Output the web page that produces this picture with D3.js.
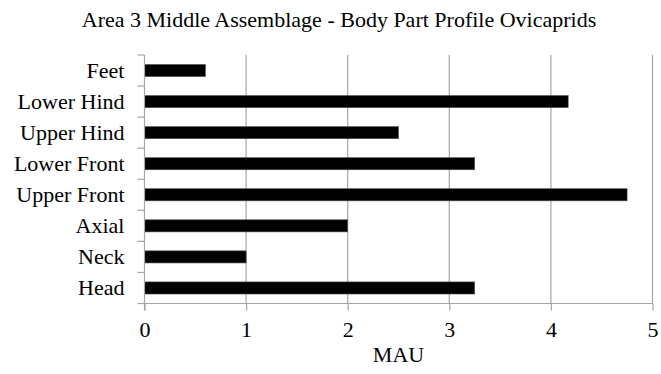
<!DOCTYPE html>
<html>
<head>
<meta charset="utf-8">
<script src="https://cdn.jsdelivr.net/npm/d3@7"></script>
<style>
  html, body { margin: 0; padding: 0; background: #fff; }
  svg { display: block; }
</style>
</head>
<body>
<svg id="chart" width="661" height="374"></svg>
<script>
// Body part categories, top to bottom
const categories = ["Feet", "Lower Hind", "Upper Hind", "Lower Front", "Upper Front", "Axial", "Neck", "Head"];
// MAU values per category
const mauValues = [0.6, 4.17, 2.5, 3.25, 4.75, 2, 1, 3.25];
const xTicks = [0, 1, 2, 3, 4, 5];
const titleText = "Area 3 Middle Assemblage - Body Part Profile Ovicaprids";
const xLabel = "MAU";

const svg = d3.select("#chart");
const margin = { left: 144.5, right: 8.5, top: 55, bottom: 70.5 };
const W = 661, H = 374;
const fontSize = 22;
const serif = '"Liberation Serif"';
const x = d3.scaleLinear().domain([0, 5]).range([margin.left, W - margin.right]);
const y = d3.scaleBand().domain(categories).range([margin.top, H - margin.bottom]).paddingInner(0.61).paddingOuter(0.305);
const yOuter = d3.scaleBand().domain(categories).range([margin.top, H - margin.bottom]);

const gridColor = "#a6a6a6";

// vertical gridlines
svg.append("g").selectAll("line").data(xTicks.slice(1)).join("line")
  .attr("x1", d => x(d)).attr("x2", d => x(d))
  .attr("y1", margin.top).attr("y2", H - margin.bottom)
  .attr("stroke", gridColor).attr("stroke-width", 1.2);

// bars
svg.append("g").selectAll("rect").data(categories).join("rect")
  .attr("x", x(0))
  .attr("y", d => y(d))
  .attr("width", (d, i) => x(mauValues[i]) - x(0))
  .attr("height", y.bandwidth())
  .attr("fill", "#000")
  .attr("stroke", "#555").attr("stroke-width", 0.6);

// x axis
const xAxis = svg.append("g").attr("transform", `translate(0,${H - margin.bottom})`)
  .call(d3.axisBottom(x).tickValues(xTicks).tickSize(7).tickPadding(11).tickFormat(d3.format("d")));
xAxis.select(".domain").attr("stroke", gridColor).attr("stroke-width", 1.2).attr("d", `M${x(0)},0H${x(5)}`);
xAxis.selectAll(".tick line").attr("stroke", gridColor).attr("stroke-width", 1.2);
xAxis.selectAll(".tick text")
  .style("font-family", serif).style("font-size", fontSize + "px").attr("fill", "#000");

// y axis with ticks at band boundaries
const yAxisG = svg.append("g");
yAxisG.append("line")
  .attr("x1", x(0)).attr("x2", x(0))
  .attr("y1", margin.top).attr("y2", H - margin.bottom + 7)
  .attr("stroke", gridColor).attr("stroke-width", 1.2);
const boundaries = categories.map(c => yOuter(c)).concat([H - margin.bottom]);
yAxisG.selectAll("line.tk").data(boundaries).join("line").attr("class", "tk")
  .attr("x1", x(0) - 7).attr("x2", x(0))
  .attr("y1", d => d).attr("y2", d => d)
  .attr("stroke", gridColor).attr("stroke-width", 1.2);
yAxisG.selectAll("text").data(categories).join("text")
  .attr("x", x(0) - 20)
  .attr("y", d => yOuter(d) + yOuter.bandwidth() / 2)
  .attr("dy", "0.33em")
  .attr("text-anchor", "end")
  .style("font-family", serif).style("font-size", fontSize + "px")
  .text(d => d);

// title
svg.append("text")
  .attr("x", 339).attr("y", 27.3)
  .attr("text-anchor", "middle")
  .style("font-family", serif).style("font-size", fontSize + "px")
  .text(titleText);

// x axis label
svg.append("text")
  .attr("x", x(2.5)).attr("y", 361.7)
  .attr("text-anchor", "middle")
  .style("font-family", serif).style("font-size", fontSize + "px")
  .text(xLabel);
</script>
</body>
</html>
